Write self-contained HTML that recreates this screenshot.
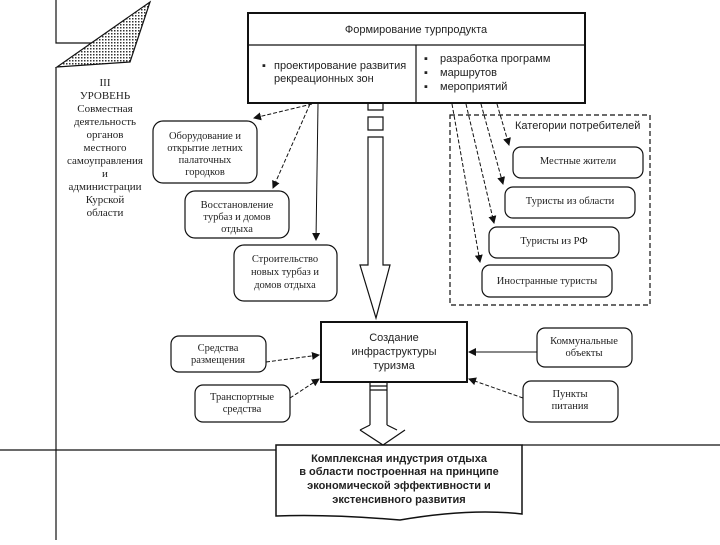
<!DOCTYPE html>
<html><head><meta charset="utf-8"><style>
body{margin:0;background:#fff}
svg text{font-family:"Liberation Serif","Noto Serif CJK SC",serif;fill:#222}
.s{font-family:"Liberation Sans","Noto Sans CJK SC",sans-serif !important}
</style></head><body>
<svg width="720" height="540" viewBox="0 0 720 540" xmlns="http://www.w3.org/2000/svg">
<defs>
<pattern id="dots" width="3" height="3" patternUnits="userSpaceOnUse"><rect width="3" height="3" fill="#fff"/><rect width="1.5" height="1.5" fill="#333"/></pattern>
<marker id="ah" markerWidth="8" markerHeight="8" refX="7" refY="4" orient="auto"><path d="M0,0 L8,4 L0,8 z" fill="#111"/></marker>
</defs>
<g fill="none" stroke="#111" stroke-width="1.2">
<path d="M56,0 V43 H120"/>
<path d="M150,2 L130,62 L57,67 Z" fill="url(#dots)"/>
<path d="M56,67 V540"/>
<rect x="248" y="13" width="337" height="90" stroke-width="2"/>
<path d="M248,45 H585 M416,45 V103"/>
<path d="M368,103 V110 H383 V103 M368,117 H383 V130 H368 Z M368,137 H383 V265 L390,265 L376,318 L360,265 L368,265 Z"/>
<rect x="153" y="121" width="104" height="62" rx="10"/>
<rect x="185" y="191" width="104" height="47" rx="10"/>
<rect x="234" y="245" width="103" height="56" rx="10"/>
<rect x="450" y="115" width="200" height="190" stroke-dasharray="5,3"/>
<rect x="513" y="147" width="130" height="31" rx="8"/>
<rect x="505" y="187" width="130" height="31" rx="8"/>
<rect x="489" y="227" width="130" height="31" rx="8"/>
<rect x="482" y="265" width="130" height="32" rx="8"/>
<rect x="321" y="322" width="146" height="60" stroke-width="2"/>
<rect x="171" y="336" width="95" height="36" rx="8"/>
<rect x="195" y="385" width="95" height="37" rx="8"/>
<rect x="537" y="328" width="95" height="39" rx="8"/>
<rect x="523" y="381" width="95" height="41" rx="8"/>
<path d="M370,382 V425 M387,382 V425 M370,386 H387 M370,390 H387 M370,425 L360,430 M387,425 L397,430 M360,430 L383,445 L405,430"/>
<path d="M0,450 H276 M522,445 H720"/>
<path d="M276,445 H522 V514 Q470,508 400,520 Q330,514 276,516 Z" stroke-width="1.5"/>
</g>
<g stroke="#111" stroke-width="1" fill="none" marker-end="url(#ah)" stroke-dasharray="4,2">
<path d="M312,104 L254,118"/>
<path d="M310,104 L273,188"/>
<path d="M318,104 L316,240" stroke-dasharray="none"/>
<path d="M497,104 L509,145"/>
<path d="M481,104 L503,184"/>
<path d="M466,104 L494,223"/>
<path d="M452,104 L480,262"/>
<path d="M266,362 L319,355"/>
<path d="M290,398 L319,379"/>
<path d="M537,352 L469,352" stroke-dasharray="none"/>
<path d="M523,398 L469,379"/>
</g>
<g font-size="11" text-anchor="middle">
<text x="105" y="86">III</text>
<text x="105" y="99">УРОВЕНЬ</text>
<text x="105" y="112">Совместная</text>
<text x="105" y="125">деятельность</text>
<text x="105" y="138">органов</text>
<text x="105" y="151">местного</text>
<text x="105" y="164">самоуправления</text>
<text x="105" y="177">и</text>
<text x="105" y="190">администрации</text>
<text x="105" y="203">Курской</text>
<text x="105" y="216">области</text>
<g font-size="10.5">
<text x="205" y="139">Оборудование и</text>
<text x="205" y="151">открытие летних</text>
<text x="205" y="163">палаточных</text>
<text x="205" y="175">городков</text>
<text x="237" y="208">Восстановление</text>
<text x="237" y="220">турбаз и домов</text>
<text x="237" y="232">отдыха</text>
<text x="285" y="262">Строительство</text>
<text x="285" y="275">новых турбаз и</text>
<text x="285" y="288">домов отдыха</text>
<text x="578" y="164">Местные жители</text>
<text x="570" y="204">Туристы из области</text>
<text x="554" y="244">Туристы из РФ</text>
<text x="547" y="284">Иностранные туристы</text>
<text x="218" y="351">Средства</text>
<text x="218" y="363">размещения</text>
<text x="242" y="400">Транспортные</text>
<text x="242" y="412">средства</text>
<text x="584" y="344">Коммунальные</text>
<text x="584" y="356">объекты</text>
<text x="570" y="397">Пункты</text>
<text x="570" y="409">питания</text>
</g>
</g>
<g class="s" font-size="11">
<text class="s" x="416" y="33" text-anchor="middle">Формирование турпродукта</text>
<text class="s" x="262" y="69">▪</text>
<text class="s" x="274" y="69">проектирование развития</text>
<text class="s" x="274" y="82">рекреационных зон</text>
<text class="s" x="424" y="62">▪</text><text class="s" x="440" y="62">разработка программ</text>
<text class="s" x="424" y="76">▪</text><text class="s" x="440" y="76">маршрутов</text>
<text class="s" x="424" y="90">▪</text><text class="s" x="440" y="90">мероприятий</text>
<text class="s" x="515" y="129">Категории потребителей</text>
<text class="s" x="394" y="341" text-anchor="middle">Создание</text>
<text class="s" x="394" y="355" text-anchor="middle">инфраструктуры</text>
<text class="s" x="394" y="369" text-anchor="middle">туризма</text>
</g>
<g class="s" font-size="11" font-weight="bold" text-anchor="middle">
<text class="s" x="399" y="462">Комплексная индустрия отдыха</text>
<text class="s" x="399" y="475">в области построенная на принципе</text>
<text class="s" x="399" y="489">экономической эффективности и</text>
<text class="s" x="399" y="503">экстенсивного развития</text>
</g>
</svg>
</body></html>
